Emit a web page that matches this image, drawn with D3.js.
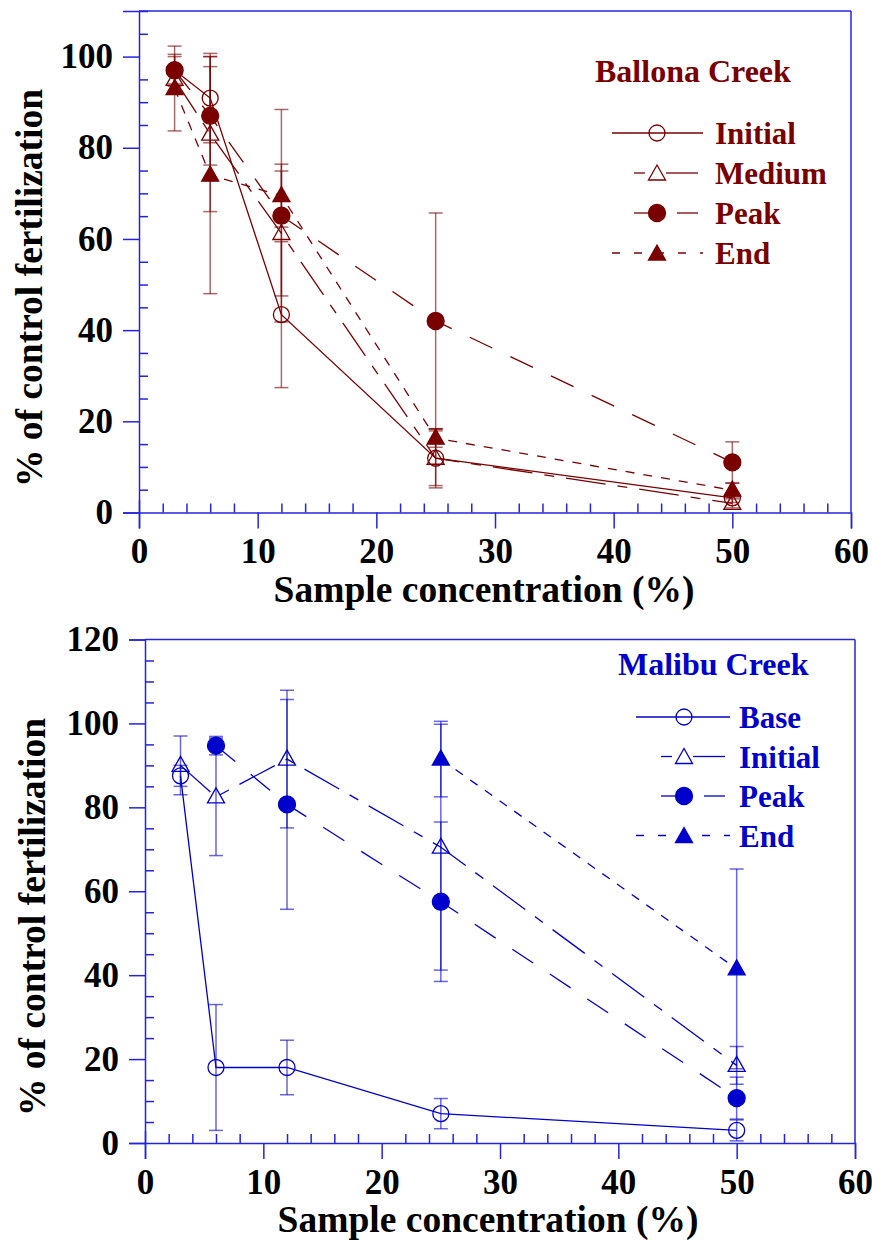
<!DOCTYPE html>
<html>
<head>
<meta charset="utf-8">
<script src="https://cdn.jsdelivr.net/npm/d3@7"></script>
<style>
  html, body { margin: 0; padding: 0; background: #fff; }
  svg { display: block; }
</style>
</head>
<body>
<svg id="chart" width="872" height="1244"></svg>
<script>
// ---------------- DATA ----------------
const concentrations = [3, 6, 12, 25, 50];

// Ballona Creek (top panel)
const ballonaInitial    = [97, 90.9, 43.4, 11.9, 3.2];
const ballonaInitialErr = [3, 9.8, 16, 6, 1];
const ballonaMedium     = [95, 83, 61.2, 11.9, 2];
const ballonaMediumErr  = [3, 17, 13.7, 6.5, 1];
const ballonaPeak       = [97, 87, 65.1, 42, 11];
const ballonaPeakErr    = [3.5, 10.8, 23.3, 23.7, 4.5];
const ballonaEnd        = [93, 74, 69.5, 16.3, 4.9];
const ballonaEndErr     = [9.3, 26, 6.9, 2, 1.5];

// Malibu Creek (bottom panel)
const malibuBase       = [87.5, 18, 18, 7, 3];
const malibuBaseErr    = [2.5, 15, 6.5, 3.6, 2.5];
const malibuInitial    = [90, 82.5, 91.5, 70.5, 18.5];
const malibuInitialErr = [7, 14, 16.4, 29.3, 4.5];
const malibuPeak       = [null, 94.7, 80.7, 57.5, 10.7];
const malibuPeakErr    = [null, 2.2, 25, 19, 5];
const malibuEnd        = [null, null, null, 91.5, 41.5];
const malibuEndErr     = [null, null, null, 9, 23.8];

const ballonaLabels = ["Initial", "Medium", "Peak", "End"];
const malibuLabels  = ["Base", "Initial", "Peak", "End"];
const xTickValues = [0, 10, 20, 30, 40, 50, 60];
const ballonaYTicks = [0, 20, 40, 60, 80, 100];
const malibuYTicks  = [0, 20, 40, 60, 80, 100, 120];
const xTitle = "Sample concentration (%)";
const yTitle = "% of control fertilization";

// ---------------- STYLE ----------------
const FONT = "'Liberation Serif', 'Times New Roman', serif";
const AXIS_COLOR = "#2424e0";
const styles = [
  { marker: "openCircle", dash: null },
  { marker: "openTriangle", dash: "40,12,10,12" },
  { marker: "filledCircle", dash: "25,20" },
  { marker: "filledTriangle", dash: "9,9" }
];

const svg = d3.select("#chart");

function drawMarker(g, type, x, y, color) {
  if (type === "openCircle" || type === "filledCircle") {
    g.append("circle").attr("cx", x).attr("cy", y)
      .attr("r", type === "filledCircle" ? 8.5 : 8)
      .attr("fill", type === "filledCircle" ? color : "none")
      .attr("stroke", color).attr("stroke-width", 1.3);
  } else {
    const p = d3.path();
    p.moveTo(x, y - 9); p.lineTo(x + 8.5, y + 6); p.lineTo(x - 8.5, y + 6); p.closePath();
    g.append("path").attr("d", p.toString())
      .attr("fill", type === "filledTriangle" ? color : "none")
      .attr("stroke", color).attr("stroke-width", 1.3);
  }
}

function drawPanel(cfg) {
  const x = d3.scaleLinear().domain([0, 60]).range([cfg.left, cfg.right]);
  const y = d3.scaleLinear().domain([0, cfg.ymax]).range([cfg.bottom, cfg.top]);
  const g = svg.append("g");

  // frame top & right
  g.append("line").attr("x1", cfg.left).attr("x2", cfg.right).attr("y1", cfg.top).attr("y2", cfg.top)
    .attr("stroke", AXIS_COLOR).attr("stroke-width", 1.5);
  g.append("line").attr("x1", cfg.right).attr("x2", cfg.right).attr("y1", cfg.top).attr("y2", cfg.bottom)
    .attr("stroke", AXIS_COLOR).attr("stroke-width", 1.5);

  // x axis major (outward) with labels
  const xAxis = g.append("g").attr("transform", `translate(0,${cfg.bottom})`)
    .call(d3.axisBottom(x).tickValues(xTickValues).tickSize(16).tickPadding(10).tickFormat(d3.format("d")));
  // x axis minor (inward)
  const xMinor = d3.range(2, 60, 2).filter(v => v % 10 !== 0);
  g.append("g").attr("transform", `translate(0,${cfg.bottom})`)
    .call(d3.axisTop(x).tickValues(xMinor).tickSize(9).tickFormat(""))
    .select(".domain").remove();

  // y axis major (outward)
  const yAxis = g.append("g").attr("transform", `translate(${cfg.left},0)`)
    .call(d3.axisLeft(y).tickValues(cfg.yTicks).tickSize(16).tickPadding(10).tickFormat(d3.format("d")));
  const yMinor = d3.range(5, cfg.ymax + 0.1, 5).filter(v => v % 20 !== 0);
  g.append("g").attr("transform", `translate(${cfg.left},0)`)
    .call(d3.axisRight(y).tickValues(yMinor).tickSize(9).tickFormat(""))
    .select(".domain").remove();

  [xAxis, yAxis].forEach(a => {
    a.select(".domain").attr("stroke", AXIS_COLOR).attr("stroke-width", 1.5);
    a.selectAll(".tick text").attr("fill", "#000").attr("font-family", FONT)
      .attr("font-weight", "bold").attr("font-size", 35);
  });
  g.selectAll(".tick line").attr("stroke", AXIS_COLOR).attr("stroke-width", 1.5);
  xAxis.selectAll(".tick").filter(d => d === 0).select("line").attr("y1", -12);

  // titles
  g.append("text").attr("x", cfg.xTitleX).attr("y", cfg.bottom + 89)
    .attr("text-anchor", "middle").attr("font-family", FONT).attr("font-weight", "bold")
    .attr("font-size", 37.5).attr("fill", "#000").text(xTitle);
  g.append("text").attr("transform", `translate(${cfg.yTitleX},${cfg.yTitleY}) rotate(-90)`)
    .attr("text-anchor", "middle").attr("font-family", FONT).attr("font-weight", "bold")
    .attr("font-size", 37.5).attr("fill", "#000").text(yTitle);

  const c = cfg.color;
  // series lines
  cfg.series.forEach((s, i) => {
    const pts = concentrations.map((cx, k) => [cx, s.values[k]]).filter(p => p[1] != null);
    const line = d3.line().x(p => x(p[0])).y(p => y(p[1]));
    g.append("path").attr("d", line(pts)).attr("fill", "none").attr("stroke", c)
      .attr("stroke-width", 1.3).attr("stroke-dasharray", styles[i].dash);
  });
  // error bars
  cfg.series.forEach((s, i) => {
    concentrations.forEach((cx, k) => {
      const v = s.values[k], e = s.err[k];
      if (v == null || e == null) return;
      const px = x(cx), y1 = y(v + e), y2 = y(v - e);
      const eg = g.append("g").attr("stroke", c).attr("stroke-width", 1.5).attr("stroke-opacity", 0.6);
      eg.append("line").attr("x1", px).attr("x2", px).attr("y1", y1).attr("y2", y2);
      eg.append("line").attr("x1", px - 7).attr("x2", px + 7).attr("y1", y1).attr("y2", y1);
      eg.append("line").attr("x1", px - 7).attr("x2", px + 7).attr("y1", y2).attr("y2", y2);
    });
  });
  // markers
  cfg.series.forEach((s, i) => {
    concentrations.forEach((cx, k) => {
      const v = s.values[k];
      if (v == null) return;
      drawMarker(g, styles[i].marker, x(cx), y(v), c);
    });
  });

  // legend
  const L = cfg.legend;
  g.append("text").attr("x", L.titleX).attr("y", L.titleY).attr("font-family", FONT)
    .attr("font-weight", "bold").attr("font-size", 32).attr("fill", c).text(cfg.name);
  cfg.labels.forEach((lab, i) => {
    const ly = L.y0 + i * L.dy;
    const mx = L.markerX;
    const lg = g.append("g");
    const st = styles[i];
    if (i === 0) {
      lg.append("line").attr("x1", L.x1).attr("x2", L.x2).attr("y1", ly).attr("y2", ly)
        .attr("stroke", c).attr("stroke-width", 1.3);
    } else if (i === 1) {
      lg.append("line").attr("x1", mx - 23).attr("x2", mx - 12).attr("y1", ly).attr("y2", ly)
        .attr("stroke", c).attr("stroke-width", 1.3);
      lg.append("line").attr("x1", mx + 9).attr("x2", L.x2 - 5).attr("y1", ly).attr("y2", ly)
        .attr("stroke", c).attr("stroke-width", 1.3);
    } else if (i === 2) {
      lg.append("line").attr("x1", mx - 23).attr("x2", mx).attr("y1", ly).attr("y2", ly)
        .attr("stroke", c).attr("stroke-width", 1.3);
      lg.append("line").attr("x1", mx + 20).attr("x2", L.x2 - 5).attr("y1", ly).attr("y2", ly)
        .attr("stroke", c).attr("stroke-width", 1.3);
    } else {
      lg.append("line").attr("x1", L.x1).attr("x2", L.x2).attr("y1", ly).attr("y2", ly)
        .attr("stroke", c).attr("stroke-width", 1.3).attr("stroke-dasharray", "8,14");
    }
    drawMarker(lg, st.marker, mx, ly + (st.marker.includes("Triangle") ? 1 : 0), c);
    g.append("text").attr("x", L.textX).attr("y", ly + 11).attr("font-family", FONT)
      .attr("font-weight", "bold").attr("font-size", 31).attr("fill", c).text(lab);
  });
}

drawPanel({
  name: "Ballona Creek", color: "#7a0000",
  left: 139, right: 851, top: 11, bottom: 512.5, ymax: 110, yTicks: ballonaYTicks,
  xTitleX: 484, yTitleX: 42, yTitleY: 288,
  labels: ballonaLabels,
  series: [
    { values: ballonaInitial, err: ballonaInitialErr },
    { values: ballonaMedium, err: ballonaMediumErr },
    { values: ballonaPeak, err: ballonaPeakErr },
    { values: ballonaEnd, err: ballonaEndErr }
  ],
  legend: { titleX: 595, titleY: 82, y0: 133, dy: 40, x1: 612, x2: 703, markerX: 657, textX: 715 }
});

drawPanel({
  name: "Malibu Creek", color: "#0000cc",
  left: 145, right: 855, top: 639.5, bottom: 1143, ymax: 120, yTicks: malibuYTicks,
  xTitleX: 488, yTitleX: 45, yTitleY: 917,
  labels: malibuLabels,
  series: [
    { values: malibuBase, err: malibuBaseErr },
    { values: malibuInitial, err: malibuInitialErr },
    { values: malibuPeak, err: malibuPeakErr },
    { values: malibuEnd, err: malibuEndErr }
  ],
  legend: { titleX: 618, titleY: 675, y0: 717, dy: 39.5, x1: 636, x2: 730, markerX: 684, textX: 739 }
});
</script>
</body>
</html>
